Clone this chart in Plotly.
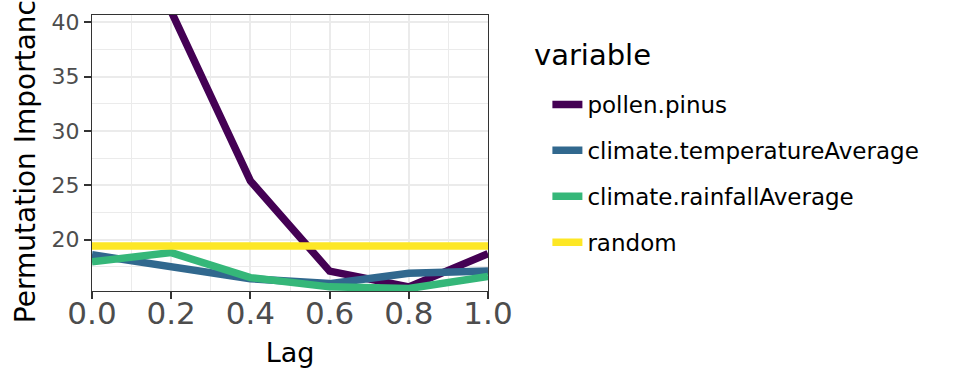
import plotly.graph_objects as go

lags = [0.0, 0.2, 0.4, 0.6, 0.8, 1.0]
pollen_pinus = [62.0, 41.0, 25.4, 17.1, 15.65, 18.7]
climate_temperature = [18.6, 17.5, 16.4, 15.95, 16.9, 17.1]
climate_rainfall = [17.95, 18.8, 16.5, 15.65, 15.5, 16.6]
random_var = [19.4, 19.4, 19.4, 19.4, 19.4, 19.4]

names = ["pollen.pinus", "climate.temperatureAverage", "climate.rainfallAverage", "random"]
series = [pollen_pinus, climate_temperature, climate_rainfall, random_var]
colors = ["#440154", "#31688E", "#35B779", "#FDE725"]
legend_title = "variable"

FONT = "DejaVu Sans"

fig = go.Figure()
for i, (n, s, c) in enumerate(zip(names, series, colors)):
    fig.add_trace(go.Scatter(
        x=lags, y=s, mode="lines", name=n, legendgroup=n,
        line=dict(color=c, width=7.5),
    ))

fig.add_annotation(
    text=legend_title, xref="paper", yref="paper", x=(532 - 92) / 396, y=(291 - 55) / 276,
    xanchor="left", yanchor="middle", showarrow=False,
    font=dict(size=29, color="black", family=FONT),
)

fig.update_layout(
    width=960, height=384,
    margin=dict(l=92, r=472, t=15, b=93, autoexpand=False),
    paper_bgcolor="white", plot_bgcolor="white",
    font=dict(family=FONT, color="black"),
    showlegend=True,
    legend=dict(
        x=1.15, xanchor="left", y=(291 - 83) / 276, yanchor="top",
        traceorder="grouped", tracegroupgap=13, maxheight=380,
        font=dict(size=23, color="black", family=FONT),
        bgcolor="rgba(0,0,0,0)",
    ),
    xaxis=dict(
        range=[0, 1], tickvals=[0, 0.2, 0.4, 0.6, 0.8, 1.0],
        ticktext=["0.0", "0.2", "0.4", "0.6", "0.8", "1.0"],
        showgrid=True, gridcolor="#EBEBEB", gridwidth=2,
        minor=dict(tickvals=[0.1, 0.3, 0.5, 0.7, 0.9], showgrid=True, gridcolor="#EBEBEB", gridwidth=1),
        ticks="outside", ticklen=7, tickcolor="#333333", tickwidth=1.5,
        tickfont=dict(size=31, color="#4D4D4D", family=FONT),
        ticklabelstandoff=-12,
        showline=True, linecolor="#333333", linewidth=1, mirror=True,
        zeroline=False, automargin=False,
        title=dict(text="Lag", font=dict(size=27, color="black", family=FONT), standoff=12),
    ),
    yaxis=dict(
        range=[15.27, 40.67], tickvals=[20, 25, 30, 35, 40],
        showgrid=True, gridcolor="#EBEBEB", gridwidth=2,
        minor=dict(tickvals=[17.5, 22.5, 27.5, 32.5, 37.5], showgrid=True, gridcolor="#EBEBEB", gridwidth=1),
        ticks="outside", ticklen=7, tickcolor="#333333", tickwidth=1.5,
        tickfont=dict(size=22, color="#4D4D4D", family=FONT),
        showline=True, linecolor="#333333", linewidth=1, mirror=True,
        zeroline=False, automargin=False,
        title=dict(text="Permutation Importance", font=dict(size=28, color="black", family=FONT), standoff=7),
    ),
)

fig.write_html("out.html", post_script="document.body.style.margin='0';",
               config={"displayModeBar": False})
